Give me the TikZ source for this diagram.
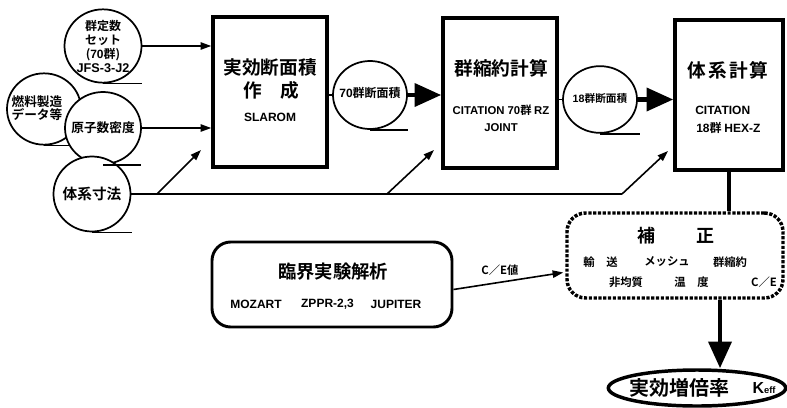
\documentclass[tikz,border=0pt]{standalone}
\usepackage{fontspec}
\setmainfont{Noto Sans CJK JP}[BoldFont={Noto Sans CJK JP Bold}]
\newfontfamily\latf{Liberation Sans}
\usetikzlibrary{arrows.meta,shapes.geometric,calc}
\newcommand\fsz[2]{\fontsize{#1}{#2}\selectfont}
\begin{document}
\begin{tikzpicture}[x=0.75pt,y=-0.75pt,
  tape/.style={ellipse, draw, line width=1.3pt, fill=white, inner sep=0pt},
  tl/.style={line width=1.3pt},
  proc/.style={draw, line width=2.6pt, inner sep=0pt},
  jp/.style={inner sep=0pt, align=center, font=\bfseries},
  arr/.style={line width=1.2pt, -{Triangle[length=8pt,width=5.5pt]}},
  big/.style={line width=3.5pt, -{Triangle[length=20pt,width=17pt]}},
  thinl/.style={line width=1.4pt}]
\useasboundingbox (0,0) rectangle (787,407);

% --- input tapes
\node[tape, minimum width=55.5pt, minimum height=53.5pt] (c2) at (44,109) {};
\draw[tl] (c2.south) -- ++(38,0);
\node[jp, font=\bfseries\fsz{9.5}{10}] (c2t) at (37,108) {燃料製造\\データ等};

\node[tape, minimum width=57.75pt, minimum height=55pt] (c1) at (103,46) {};
\draw[tl] (c1.south) -- ++(39,0);
\node[jp, font=\bfseries\fsz{9}{10.5}] (c1t) at (103,46) {群定数\\セット\\({\latf\bfseries 70}群)\\{\latf\bfseries\fsz{9.5}{10.5}JFS-3-J2}};

\node[tape, minimum width=57pt, minimum height=54pt] (c3) at (103,128) {};
\node[jp, font=\bfseries\fsz{9.5}{11}] (c3t) at (103,128) {原子数密度};

\node[tape, minimum width=57.75pt, minimum height=56.25pt] (c4) at (92,194) {};
\draw[tl] (c4.south) -- ++(40,0);
\node[jp, font=\bfseries\fsz{11}{13}] (c4t) at (92,194) {体系寸法};
\draw[tl] (c3.south) -- ++(38,0);

% --- process boxes
\node[proc, minimum width=85.5pt, minimum height=112.5pt] (b1) at (270,92) {};
\node[jp, font=\bfseries\fsz{14}{16}] (b1a) at (270,67) {実効断面積};
\node[jp, font=\bfseries\fsz{14}{16}] (b1b) at (271,90) {作　成};
\node[jp, font=\latf\bfseries\fsz{9}{11}] (b1c) at (270,117) {SLAROM};

\node[proc, minimum width=85.5pt, minimum height=112.5pt] (b2) at (500,93) {};
\node[jp, font=\bfseries\fsz{14}{16}] (b2a) at (501,68) {群縮約計算};
\node[jp, font=\bfseries\fsz{8.5}{10}] (b2b) at (501,110) {{\latf\bfseries CITATION 70}群 {\latf\bfseries RZ}};
\node[jp, font=\latf\bfseries\fsz{8.5}{10}] (b2c) at (501,128) {JOINT};

\node[proc, minimum width=81pt, minimum height=112.5pt] (b3) at (729,95) {};
\node[jp, font=\bfseries\fsz{14}{16}] (b3a) at (728,70) {体\hspace{1.5pt}系\hspace{1.5pt}計\hspace{1.5pt}算};
\node[jp, anchor=west, font=\latf\bfseries\fsz{9}{11}] (b3b) at (695,110) {CITATION};
\node[jp, anchor=west, font=\bfseries\fsz{9}{11}] (b3c) at (696,128) {{\latf\bfseries 18}群 {\latf\bfseries HEX-Z}};

% --- intermediate tapes
\node[tape, minimum width=55.5pt, minimum height=51pt] (r70) at (370,95) {};
\draw[tl] (r70.south) -- ++(38,0);
\node[jp, font=\bfseries\fsz{9}{10}] (r70t) at (370,93) {{\latf\bfseries 70}群断面積};

\node[tape, minimum width=55.5pt, minimum height=50pt] (r18) at (600,99.5) {};
\draw[tl] (r18.south) -- ++(40,0);
\node[jp, font=\bfseries\fsz{8}{9}] (r18t) at (600,98) {{\latf\bfseries 18}群断面積};

% --- correction box, critical experiments, keff
\node[draw, rounded corners=14pt, line width=2.6pt, dash pattern=on 2.4pt off 1.2pt,
      minimum width=162pt, minimum height=63.75pt, inner sep=0pt] (hosei) at (675,255.5) {};
\node[jp, font=\bfseries\fsz{13.5}{15}] (h0) at (676,236) {補\hspace{31pt}正};
\node[jp, font=\bfseries\fsz{8.5}{10}] (h1) at (589,262) {輸};
\node[jp, font=\bfseries\fsz{8.5}{10}] (h2) at (612,262) {送};
\node[jp, font=\bfseries\fsz{8.5}{10}] (h3) at (667,262) {メッシュ};
\node[jp, font=\bfseries\fsz{8.5}{10}] (h4) at (730,262) {群縮約};
\node[jp, font=\bfseries\fsz{8.5}{10}] (h5) at (626,282) {非均質};
\node[jp, font=\bfseries\fsz{8.5}{10}] (h6) at (680,282) {温};
\node[jp, font=\bfseries\fsz{8.5}{10}] (h7) at (703,282) {度};
\node[jp, font=\bfseries\fsz{8.5}{10}] (h8) at (764,282) {C／E};

\node[draw, rounded corners=14pt, line width=2.2pt, minimum width=180pt, minimum height=63.75pt, inner sep=0pt] (rinkai) at (332,284.5) {};
\node[jp, font=\bfseries\fsz{13.75}{15}] (rk0) at (333,271.5) {臨界実験解析};
\node[jp, font=\latf\bfseries\fsz{9}{11}] (rk1) at (256,304) {MOZART};
\node[jp, font=\latf\bfseries\fsz{9}{11}] (rk2) at (327.5,304) {ZPPR-2,3};
\node[jp, font=\latf\bfseries\fsz{9}{11}] (rk3) at (396,304) {JUPITER};

\node[draw, ellipse, line width=2.6pt, minimum width=133pt, minimum height=27pt, inner sep=0pt] (kef) at (697,388) {};
\node[jp, font=\bfseries\fsz{15}{17}] (kef1) at (679,388) {実効増倍率};
\node[jp, font=\latf\bfseries\fsz{12}{14}] (kef2) at (764,388) {K\raisebox{-0.5pt}{\fsz{7}{8}eff}};

% --- connectors
\draw[arr] (c1.east) -- (c1.east -| b1.west);
\draw[arr] (c3.east) -- (c3.east -| b1.west);
\coordinate (j1) at (157,194);
\coordinate (j2) at (387,194);
\coordinate (j3) at (622,194);
\coordinate (t1) at (201,150);
\coordinate (t2) at (434,150);
\coordinate (t3) at (668,151);
\draw[thinl] (c4.east) -- (j3);
\draw[arr] (j1) -- (t1);
\draw[arr] (j2) -- (t2);
\draw[arr] (j3) -- (t3);

\draw[thinl] (b1.east |- r70.west) -- (r70.west);
\draw[big] (r70.east) -- (r70.east -| b2.west);
\draw[thinl] (b2.east |- r18.west) -- (r18.west);
\draw[big] (r18.east) -- (r18.east -| b3.west);

\draw[line width=3.5pt] (b3.south) -- (b3.south |- hosei.north);
\coordinate (kx) at (720,0);
\draw[big] (hosei.south -| kx) -- (kx |- kef.north);

\draw[arr] ($(rinkai.east)+(0,5)$) -- ($(hosei.west)+(-2,17)$);
\node[jp, font=\bfseries\fsz{8.5}{10}] (ce) at (500,270) {C／E値};
\end{tikzpicture}
\end{document}
